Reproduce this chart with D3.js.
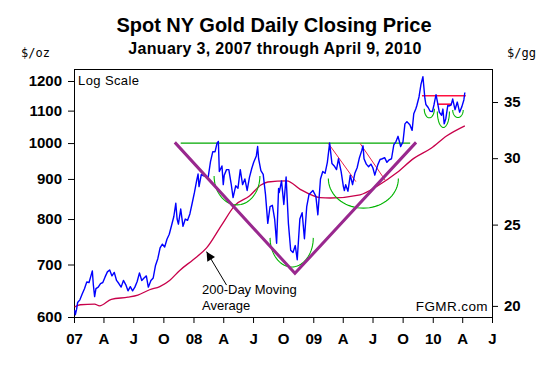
<!DOCTYPE html>
<html><head><meta charset="utf-8">
<script src="https://cdn.jsdelivr.net/npm/d3@7/dist/d3.min.js"></script>
<style>body{margin:0;background:#fff}svg{display:block}</style>
</head><body><svg id="c" width="549" height="366"></svg>
<script>
// ---------- data ----------
const priceDates = [
"2007-01-03","2007-01-05","2007-01-09","2007-01-12","2007-01-19","2007-01-26","2007-02-02","2007-02-09","2007-02-16","2007-02-23","2007-02-26","2007-03-01","2007-03-05","2007-03-09","2007-03-16","2007-03-23","2007-03-30","2007-04-06","2007-04-13","2007-04-20","2007-04-27","2007-05-04","2007-05-11","2007-05-18","2007-05-25","2007-06-01","2007-06-08","2007-06-15","2007-06-22","2007-06-29","2007-07-06","2007-07-13","2007-07-20","2007-07-27","2007-08-03","2007-08-10","2007-08-16","2007-08-24","2007-08-31","2007-09-07","2007-09-14","2007-09-21","2007-09-28","2007-10-05","2007-10-12","2007-10-19","2007-10-26","2007-11-02","2007-11-08","2007-11-12","2007-11-16","2007-11-23","2007-11-30","2007-12-07","2007-12-14","2007-12-21","2007-12-28",
"2008-01-04","2008-01-11","2008-01-15","2008-01-18","2008-01-25","2008-02-01","2008-02-08","2008-02-15","2008-02-22","2008-02-29","2008-03-07","2008-03-13","2008-03-17","2008-03-20","2008-03-28","2008-04-01","2008-04-04","2008-04-11","2008-04-18","2008-04-25","2008-05-01","2008-05-09","2008-05-16","2008-05-23","2008-05-30","2008-06-06","2008-06-13","2008-06-20","2008-06-27","2008-07-03","2008-07-11","2008-07-15","2008-07-18","2008-07-25","2008-08-01","2008-08-08","2008-08-15","2008-08-22","2008-08-29","2008-09-05","2008-09-11","2008-09-17","2008-09-19","2008-09-26","2008-10-03","2008-10-10","2008-10-17","2008-10-24","2008-10-31","2008-11-07","2008-11-13","2008-11-21","2008-11-28","2008-12-05","2008-12-12","2008-12-19","2008-12-31",
"2009-01-09","2009-01-15","2009-01-23","2009-01-30","2009-02-06","2009-02-13","2009-02-20","2009-02-27","2009-03-06","2009-03-13","2009-03-19","2009-03-27","2009-04-03","2009-04-06","2009-04-10","2009-04-17","2009-04-24","2009-05-01","2009-05-08","2009-05-15","2009-05-22","2009-05-29","2009-06-02","2009-06-05","2009-06-12","2009-06-19","2009-06-26","2009-07-02","2009-07-08","2009-07-17","2009-07-24","2009-07-31","2009-08-07","2009-08-14","2009-08-21","2009-08-28","2009-09-04","2009-09-11","2009-09-17","2009-09-25","2009-10-02","2009-10-08","2009-10-14","2009-10-23","2009-10-30","2009-11-04","2009-11-10","2009-11-13","2009-11-20","2009-11-26","2009-12-02","2009-12-08","2009-12-11","2009-12-18","2009-12-24","2009-12-31",
"2010-01-05","2010-01-08","2010-01-11","2010-01-15","2010-01-21","2010-01-28","2010-02-01","2010-02-05","2010-02-10","2010-02-16","2010-02-19","2010-02-26","2010-03-03","2010-03-10","2010-03-17","2010-03-24","2010-03-31","2010-04-06","2010-04-09"];
const prices = [
612,604,614,626,631,642,652,665,664,680,687,660,637,652,655,662,664,675,685,689,677,684,668,662,655,668,660,648,656,648,655,666,683,668,673,677,655,668,673,698,712,735,743,737,754,765,785,806,838,800,788,824,783,800,797,812,838,
865,897,913,880,912,908,907,905,947,975,975,1000,1005,920,935,885,910,925,925,888,852,882,876,925,885,900,870,904,928,945,963,990,955,922,912,860,790,830,833,800,745,875,865,895,835,905,790,730,725,740,710,800,815,755,830,860,870,
855,810,900,920,915,945,1000,942,935,925,955,920,880,870,885,868,910,885,915,930,958,978,992,955,940,933,940,930,910,938,953,955,958,945,952,955,995,1005,1020,990,1003,1058,1065,1055,1038,1090,1105,1115,1145,1188,1215,1140,1120,1110,1098,1097,
1120,1137,1153,1130,1095,1085,1105,1058,1075,1117,1115,1118,1138,1103,1128,1095,1113,1135,1160];

const maDates = ["2007-01-03","2007-01-20","2007-03-05","2007-03-20","2007-04-25","2007-06-15","2007-07-15","2007-08-20","2007-09-20","2007-10-20","2007-11-20","2007-12-31","2008-02-10","2008-03-27","2008-05-08","2008-06-20","2008-07-25","2008-08-15","2008-10-12","2008-11-22","2009-01-22","2009-02-22","2009-05-24","2009-07-15","2009-09-14","2009-11-04","2009-12-27","2010-02-12","2010-04-09"];
const maValues = [618,622,623,620,632,636,640,650,656,668,688,710,735,786,834,856,884,892,895,873,852,851,859,881,917,956,985,1021,1052];

const leftTicks = [600,700,800,900,1000,1100,1200];
const rightTicks = [20,25,30,35];
const xTickDates = ["2007-01-01","2007-04-01","2007-07-01","2007-10-01","2008-01-01","2008-04-01","2008-07-01","2008-10-01","2009-01-01","2009-04-01","2009-07-01","2009-10-01","2010-01-01","2010-04-01","2010-07-01"];
const xTickLabels = ["07","A","J","O","08","A","J","O","09","A","J","O","10","A","J"];

// annotations (in data units)
const vLineDates = ["2007-11-05","2008-11-06","2009-11-11"];
const vLinePrices = [1002,682,1002];
const neckDates = ["2007-11-23","2009-10-24"];
const neckPrices = [1000,1000];
const arcStart = ["2008-03-04","2008-08-22","2009-02-16","2009-12-06","2010-01-15","2010-03-03"];
const arcEnd   = ["2008-07-22","2009-01-01","2009-09-18","2010-01-06","2010-02-21","2010-04-04"];
const arcTop   = [908,757,901,1106,1097,1102];
const arcBottom= [834,695,826,1077,1047,1078];
const redSegStart = ["2009-02-16","2009-05-24","2009-11-29","2010-01-15"];
const redSegEnd   = ["2009-05-11","2009-08-10","2010-04-12","2010-02-28"];
const redSegP0    = [999,999,1149,1121];
const redSegP1    = [893,895,1149,1121];
const arrowDates = ["2008-04-11","2008-02-10"];
const arrowPrices = [659,727];
const maLabelDate = "2008-01-27", maLabelPrice = 642;

// ---------- chart ----------
const pd = d3.timeParse("%Y-%m-%d");
const svg = d3.select("#c");
const L = 74, R = 492, T = 69, B = 317;
const x = d3.scaleTime().domain([pd("2007-01-01"), pd("2010-07-01")]).range([L, R]);
const y = d3.scaleLog().domain([600, 1243]).range([B, T]);
const yR = d3.scaleLog().domain([19.40, 38.32]).range([B, T]);

const font = "Arial, 'Liberation Sans', sans-serif";

svg.append("text").attr("x", 274).attr("y", 32).attr("text-anchor", "middle")
  .attr("font-family", font).attr("font-weight", "bold").attr("font-size", 20)
  .text("Spot NY Gold Daily Closing Price");
svg.append("text").attr("x", 275).attr("y", 54).attr("text-anchor", "middle")
  .attr("font-family", font).attr("font-weight", "bold").attr("font-size", 16).attr("letter-spacing", 0.3)
  .text("January 3, 2007 through April 9, 2010");
svg.append("text").attr("x", 21).attr("y", 57)
  .attr("font-family", "'DejaVu Sans Mono', 'Liberation Mono', monospace").attr("font-size", 12)
  .text("$/oz");
svg.append("text").attr("x", 507).attr("y", 57)
  .attr("font-family", "'DejaVu Sans Mono', 'Liberation Mono', monospace").attr("font-size", 12)
  .text("$/gg");

// axes
const axL = d3.axisLeft(y).tickValues(leftTicks).tickFormat(d3.format("d")).tickSize(6).tickPadding(6);
const axR = d3.axisRight(yR).tickValues(rightTicks).tickFormat(d3.format("d")).tickSize(6).tickPadding(6);
const axB = d3.axisBottom(x).tickValues(xTickDates.map(pd)).tickFormat((d,i)=>xTickLabels[i]).tickSize(6).tickPadding(10);
function style(g){
  g.select(".domain").remove();
  g.selectAll("line").attr("stroke","#000");
  g.selectAll("text").attr("font-family", font).attr("font-weight","bold").attr("font-size",15).attr("fill","#000");
}
svg.append("g").attr("transform",`translate(${L},0)`).call(axL).call(style);
svg.append("g").attr("transform",`translate(${R},0)`).call(axR).call(style);
svg.append("g").attr("transform",`translate(0,${B})`).call(axB).call(style);

svg.append("rect").attr("x", L+0.5).attr("y", T+0.5).attr("width", R-L).attr("height", B-T)
  .attr("fill","none").attr("stroke","#000").attr("stroke-width",1);

const plot = svg.append("g");
const line = d3.line().x(d=>x(d[0])).y(d=>y(d[1]));

// moving average
plot.append("path").datum(maDates.map((d,i)=>[pd(d), maValues[i]]))
  .attr("d", line.curve(d3.curveMonotoneX)).attr("fill","none").attr("stroke","#c8004a").attr("stroke-width",1.3);
line.curve(d3.curveLinear);

// arcs
arcStart.forEach((s,i)=>{
  const x0 = x(pd(s)), x1 = x(pd(arcEnd[i]));
  const yt = y(arcTop[i]), yb = y(arcBottom[i]);
  const cx = (x0+x1)/2, rx = (x1-x0)/2, ry = yb-yt;
  const pts = d3.range(0, 181, 5).map(a=>[cx + rx*Math.cos(a*Math.PI/180), yt + ry*Math.sin(a*Math.PI/180)]);
  plot.append("path").attr("d", d3.line()(pts)).attr("fill","none").attr("stroke","#00b400").attr("stroke-width",1.1);
});

// neckline
plot.append("path").datum(neckDates.map((d,i)=>[pd(d), neckPrices[i]]))
  .attr("d", line).attr("fill","none").attr("stroke","#00a800").attr("stroke-width",1.2);

// red segments
redSegStart.forEach((s,i)=>{
  plot.append("path").datum([[pd(s), redSegP0[i]],[pd(redSegEnd[i]), redSegP1[i]]])
    .attr("d", line).attr("fill","none").attr("stroke", i<2 ? "#e8204a" : "#ff1040")
    .attr("stroke-width", i<2 ? 1 : 1.6);
});

// gold price
plot.append("path").datum(priceDates.map((d,i)=>[pd(d), prices[i]]))
  .attr("d", line).attr("fill","none").attr("stroke","#0000ff").attr("stroke-width",1.4).attr("stroke-linejoin","round");

// V trend lines
plot.append("path").datum(vLineDates.map((d,i)=>[pd(d), vLinePrices[i]]))
  .attr("d", line).attr("fill","none").attr("stroke","#99288e").attr("stroke-width",3);

// annotation texts
svg.append("text").attr("x", L+4).attr("y", 85).attr("font-family", font).attr("font-size", 13)
  .attr("letter-spacing", 0.4).text("Log Scale");
svg.append("text").attr("x", R-4).attr("y", 311).attr("text-anchor","end").attr("font-family", font)
  .attr("font-size", 13.5).attr("letter-spacing", 0.4).text("FGMR.com");
const lx = x(pd(maLabelDate)), ly = y(maLabelPrice);
svg.append("text").attr("x", lx).attr("y", ly).attr("font-family", font).attr("font-size", 13).text("200-Day Moving");
svg.append("text").attr("x", lx).attr("y", ly+16.5).attr("font-family", font).attr("font-size", 13).text("Average");

// arrow
svg.append("defs").append("marker").attr("id","ah").attr("viewBox","0 0 10 10")
  .attr("refX",10).attr("refY",5).attr("markerWidth",11).attr("markerHeight",9)
  .attr("markerUnits","userSpaceOnUse").attr("orient","auto")
  .append("path").attr("d","M0,0L10,5L0,10Z").attr("fill","#000");
svg.append("path").datum(arrowDates.map((d,i)=>[pd(d), arrowPrices[i]]))
  .attr("d", line).attr("stroke","#000").attr("stroke-width",1).attr("marker-end","url(#ah)");
</script></body></html>
